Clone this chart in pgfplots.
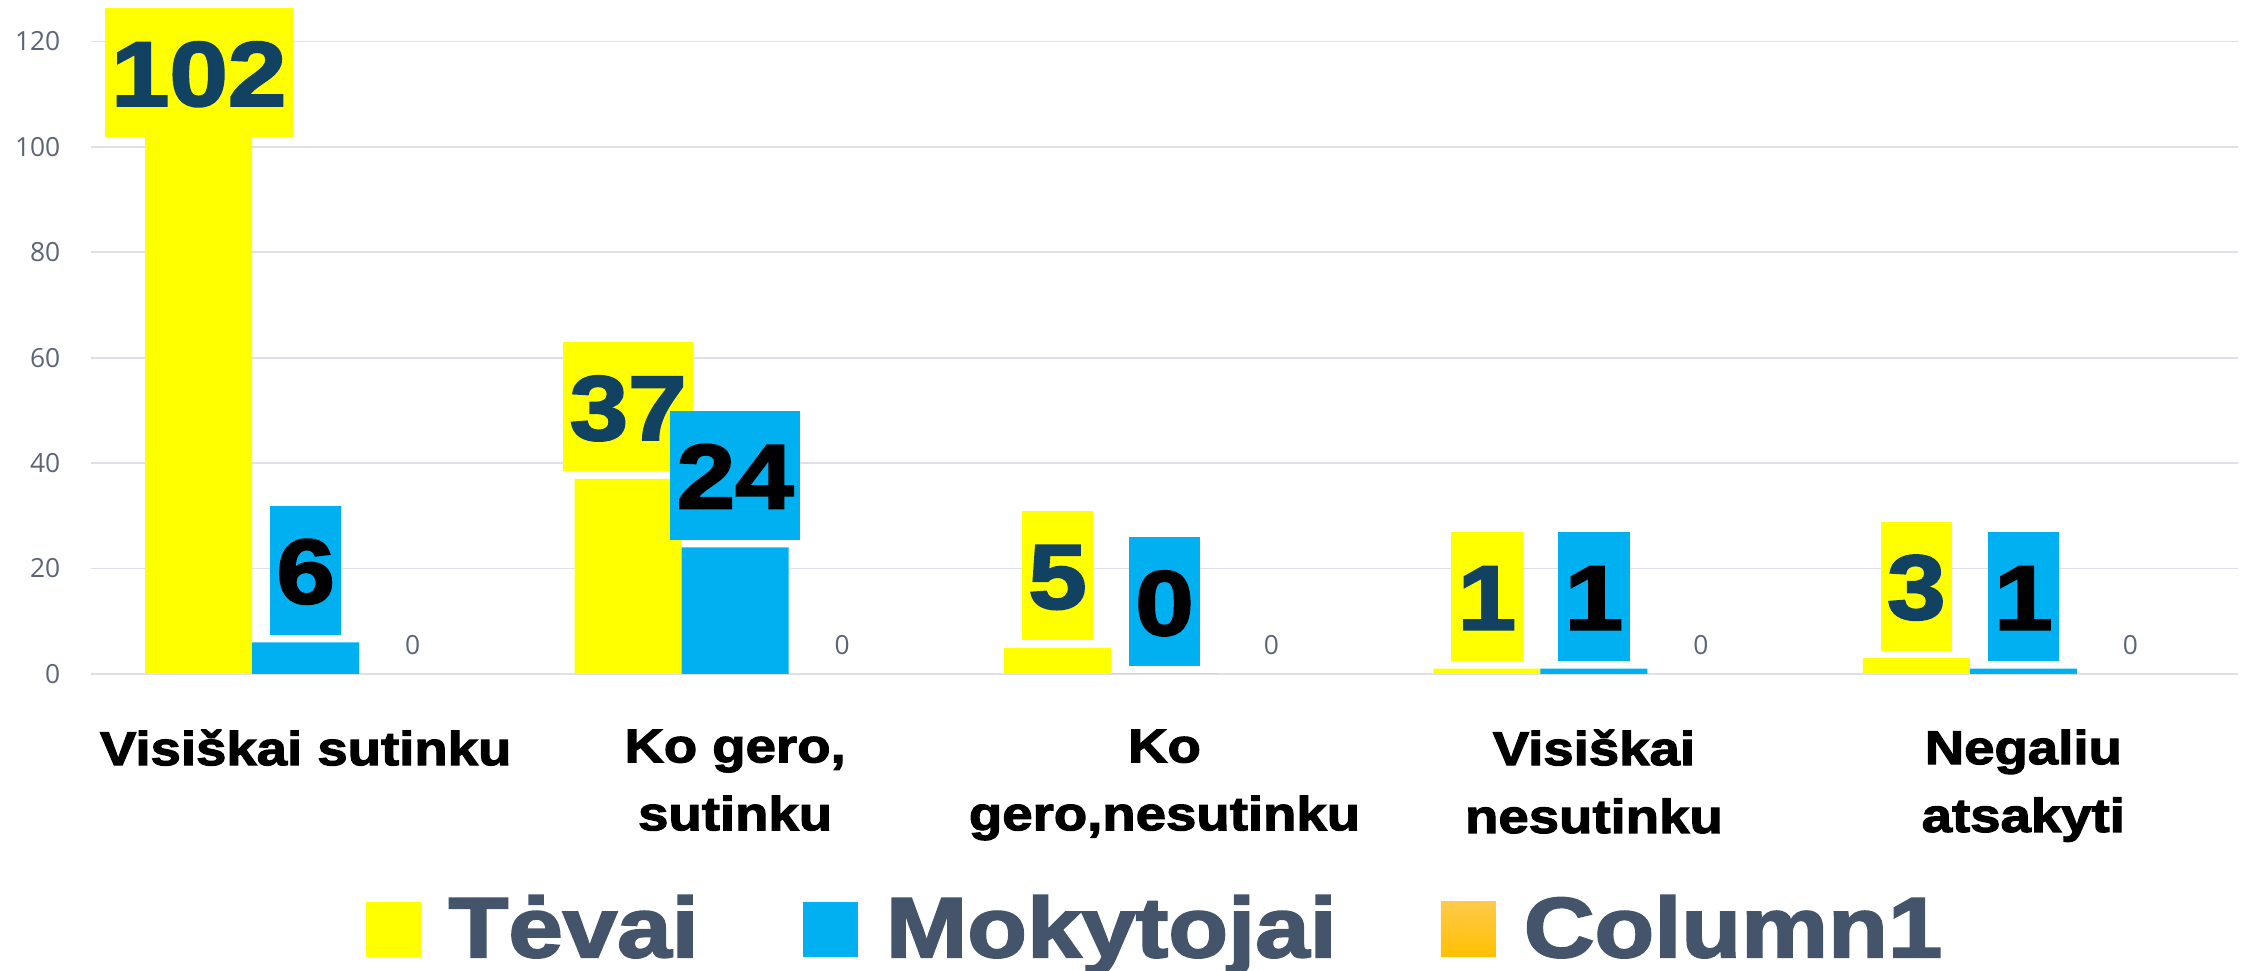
\documentclass[border=0pt]{standalone}
\usepackage{fontspec}
\setmainfont{Liberation Sans}
\newfontfamily\blackfont[FakeStretch=1.15,BoldFeatures={FakeBold=2.5}]{Liberation Sans}
\newfontfamily\tickfont{Open Sans}
\usepackage{pgfplots}
\pgfplotsset{compat=1.18}
\definecolor{tevai}{HTML}{FFFF00}
\definecolor{moky}{HTML}{00B0F0}
\definecolor{colA}{HTML}{FFC94A}
\definecolor{colB}{HTML}{FFC000}
\definecolor{navy}{HTML}{124262}
\definecolor{slate}{HTML}{44546A}
\definecolor{tickgray}{HTML}{5B6577}
\definecolor{gridc}{HTML}{DDE1E7}

\begin{document}
\begin{tikzpicture}
\useasboundingbox (0,0) rectangle (22.44,9.71);
\begin{axis}[
  at={(0.91cm,2.97cm)}, anchor=south west,
  scale only axis, width=21.47cm, height=6.325cm,
  xmin=-0.5, xmax=4.5, ymin=0, ymax=120,
  ytick={0,20,...,120}, xtick={0,...,4},
  xticklabels={Visiškai sutinku, {Ko gero,\\ sutinku}, {Ko\\ gero,nesutinku}, {Visiškai\\ nesutinku}, {Negaliu\\ atsakyti}},
  ymajorgrids, grid style={gridc, line width=0.5pt},
  axis line style={draw=none},
  major tick length=0pt,
  clip=false,
  ybar=0pt, bar width=1.07cm,
  /pgf/number format/assume math mode=true,
  yticklabel style={font=\tickfont\fontsize{7.5}{9}\selectfont, text=tickgray, anchor=east, inner sep=0pt, xshift=-0.3cm},
  xticklabel style={font=\blackfont\bfseries\fontsize{13.5}{19.3}\selectfont, text=black, align=center, anchor=north, inner sep=0pt, yshift=-0.55cm},
  legend columns=3,
  legend style={at={(0.1276,-0.403)}, anchor=west, draw=none, fill=none, inner sep=0pt,
    font=\blackfont\bfseries\fontsize{24.2}{24.2}\selectfont, text=slate,
    /tikz/every odd column/.style={column sep=0.28cm},
    /tikz/every even column/.style={column sep=1.04cm},
    nodes={inner sep=0pt}},
  bigval/.style={nodes near coords, visualization depends on={rawy \as \rawy},
    every node near coord/.append style={
    font=\blackfont\bfseries\fontsize{26}{26}\selectfont, anchor=south,
    yshift={(\rawy>100 ? -0.01 : 0.075)*1cm},
    inner xsep=0.065cm, inner ysep=0pt, outer sep=0pt, text height=0.657cm, text depth=0pt,
    minimum height=1.29cm}},
]
\addplot[fill=tevai, draw=none, bigval, every node near coord/.append style={fill=tevai, text=navy},
  legend image code/.code={\fill[tevai] (0cm,-0.28cm) rectangle (0.55cm,0.27cm);}]
  coordinates {(0,102) (1,37) (2,5) (3,1) (4,3)};
\addplot[fill=moky, draw=none, bigval, every node near coord/.append style={fill=moky, text=black},
  legend image code/.code={\fill[moky] (0cm,-0.28cm) rectangle (0.55cm,0.27cm);}]
  coordinates {(0,6) (1,24) (2,0) (3,1) (4,1)};
\addplot[fill=none, draw=none, nodes near coords,
  every node near coord/.append style={font=\tickfont\fontsize{7.5}{9}\selectfont, text=tickgray, anchor=south, inner sep=0pt, yshift=0.19cm},
  legend image code/.code={\shade[top color=colA, bottom color=colB] (0cm,-0.28cm) rectangle (0.55cm,0.27cm);}]
  coordinates {(0,0) (1,0) (2,0) (3,0) (4,0)};
\legend{Tėvai, Mokytojai, Column1}
\end{axis}
\end{tikzpicture}
\end{document}
